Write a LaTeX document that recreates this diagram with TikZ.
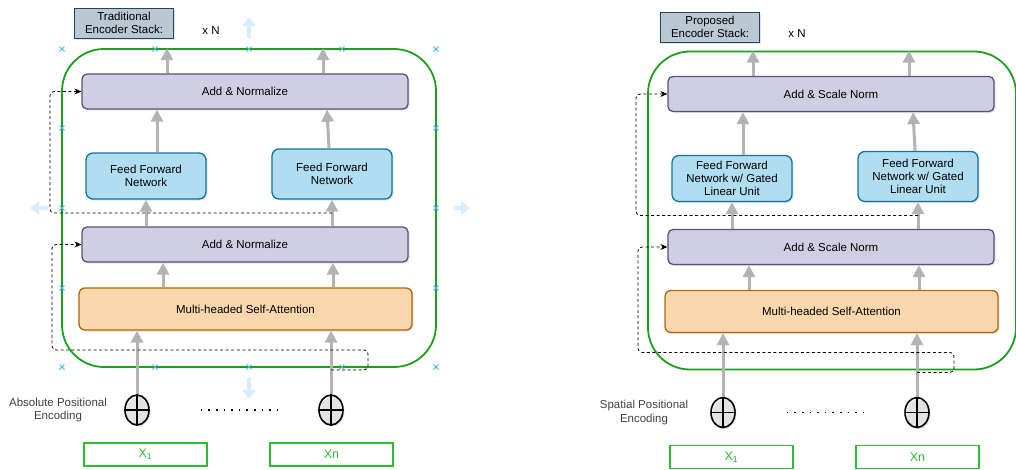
\documentclass[tikz,border=0pt]{standalone}
\usepackage{fontspec}
\setmainfont{Liberation Sans}
\usetikzlibrary{calc,positioning,arrows.meta,shapes.geometric,shadows}

\definecolor{addfill}{HTML}{D0CEE2}
\definecolor{addline}{HTML}{56517E}
\definecolor{ffnfill}{HTML}{B1DDF0}
\definecolor{ffnline}{HTML}{10739E}
\definecolor{attnfill}{HTML}{FAD7AC}
\definecolor{attnline}{HTML}{B46504}
\definecolor{titlefill}{HTML}{BAC8D3}
\definecolor{titleline}{HTML}{23445D}
\definecolor{stackgreen}{HTML}{1E9E1E}
\definecolor{inputgreen}{HTML}{2DBE2D}
\definecolor{flowgray}{HTML}{B3B3B3}
\definecolor{handleblue}{HTML}{3DB8EE}
\definecolor{paleblue}{HTML}{D6EEFB}

\tikzset{blockshadow/.style={drop shadow={opacity=0.22,shadow xshift=1.5pt,shadow yshift=-1.5pt}},
addnorm/.style={draw=addline,fill=addfill,line width=1.3pt,rounded corners=5pt,minimum width=326pt,minimum height=35pt,blockshadow},
ffn/.style={draw=ffnline,fill=ffnfill,line width=1.3pt,rounded corners=7pt,minimum width=120pt,align=center,blockshadow},
attn/.style={draw=attnline,fill=attnfill,line width=1.3pt,rounded corners=6pt,minimum width=333pt,minimum height=42pt,blockshadow},
titlebox/.style={draw=titleline,fill=titlefill,line width=0.9pt,minimum width=99pt,minimum height=30pt,inner sep=1pt,align=center,blockshadow},
stackframe/.style={draw=stackgreen,line width=1.8pt,rounded corners=42pt,minimum width=374pt,minimum height=318pt},
oplus/.style={draw=black,line width=1.6pt,ellipse,minimum width=24pt,minimum height=30pt,inner sep=0pt,blockshadow},
petext/.style={align=center,text=black!75},
inbox/.style={draw=inputgreen,line width=1.8pt,minimum width=123pt,minimum height=23pt,inner sep=0pt,text=inputgreen,font=\fontsize{12.5}{14}\selectfont}}
\tikzstyle{flow}   = [line width=3pt,draw=flowgray,-{Triangle[width=12pt,length=12pt]}]
\tikzstyle{skip}   = [line width=0.8pt,dash pattern=on 3pt off 2.5pt,rounded corners=4pt,-{Stealth[length=7pt,width=6pt]}]
\tikzstyle{handle} = [draw=handleblue,line width=0.9pt]
\tikzstyle{nudge}  = [line width=4.5pt,draw=paleblue,-{Triangle[width=13pt,length=9pt]}]

\begin{document}
\begin{tikzpicture}[x=1pt,y=-1pt,font=\fontsize{11.5}{13.3}\selectfont]
	\useasboundingbox (0,0) rectangle (1016,469);

	% traditional encoder
	\node[stackframe] (tStack) at (249,208) {};
	\node[titlebox] (tTitle) at (124,23) {Traditional\\Encoder Stack:};
	\node (tTimes) at (211,31) {x N};
	\node[addnorm] (tAddTop) at (245,91.5) {Add \& Normalize};
	\node[ffn,minimum height=46pt] (tFfnL) at (146,176) {Feed Forward\\Network};
	\node[ffn,minimum height=50pt] (tFfnR) at (332,174) {Feed Forward\\Network};
	\node[addnorm] (tAddMid) at (245,244.5) {Add \& Normalize};
	\node[attn] (tAttn) at (245.5,309) {Multi-headed Self-Attention};
	\node[oplus] (tSumL) at (137,410) {};
	\node[oplus] (tSumR) at (331,410) {};
	\node[petext] (tPe) at (58,410) {Absolute Positional\\Encoding};
	\node[inbox] (tX1) at (145.5,454.5) {X\textsubscript{1}};
	\node[inbox] (tXn) at (331.5,454.5) {Xn};

	\draw[line width=1.4pt] (tSumL.north) -- (tSumL.south) (tSumL.west) -- (tSumL.east);
	\draw[line width=1.4pt] (tSumR.north) -- (tSumR.south) (tSumR.west) -- (tSumR.east);
	\draw[line width=1.8pt,dash pattern=on 1.6pt off 6pt] ([xshift=51pt]tSumL.east) -- ([xshift=-39pt]tSumR.west);

	\draw[flow] (tSumL.north) -- (tSumL |- tAttn.south);
	\draw[flow] (tSumR.north) -- (tSumR |- tAttn.south);
	\draw[flow] ([xshift=-82.5pt]tAttn.north) -- ([xshift=-82pt]tAddMid.south);
	\draw[flow] ([xshift=87.5pt]tAttn.north) -- ([xshift=88pt]tAddMid.south);
	\draw[flow] (tAddMid.north -| tFfnL) -- (tFfnL.south);
	\draw[flow] (tAddMid.north -| tFfnR) -- (tFfnR.south);
	\draw[flow] ([xshift=11pt]tFfnL.north) -- ([xshift=-88pt]tAddTop.south);
	\draw[flow] ([xshift=-3pt]tFfnR.north) -- ([xshift=82pt]tAddTop.south);
	\draw[flow] ([xshift=-78pt]tAddTop.north) -- ([xshift=-82pt]tStack.north);
	\draw[flow] ([xshift=78pt]tAddTop.north) -- ([xshift=74pt]tStack.north);

	\coordinate (tTapA) at ($(tAddMid.north -| tFfnR)!0.5!(tFfnR.south)$);
	\coordinate (tTapB) at ([yshift=-2pt]tSumR |- tStack.south);
	\draw[skip] (tTapA) -- ++(-282,0) |- (tAddTop.west);
	\draw[skip] (tTapB) -- ++(37,0) -- ++(0,-20) -- ++(-316,0) |- (tAddMid.west);

	% selection handles
	\foreach \hx/\hy in {62/49,155/49,249/49,342/49,436/49,62/367,155/367,249/367,342/367,436/367,62/128,436/128,62/208,436/208,62/288,436/288}
		\draw[handle] (\hx-2.5,\hy-2.5) -- (\hx+2.5,\hy+2.5) (\hx-2.5,\hy+2.5) -- (\hx+2.5,\hy-2.5);
	\draw[nudge] (249,38) -- (249,17);
	\draw[nudge] (249,378) -- (249,399);
	\draw[nudge] (48,208) -- (30,208);
	\draw[nudge] (454,208) -- (470,208);

	% proposed encoder
	\begin{scope}[shift={(586,2.5)}]
		\node[stackframe,minimum width=368pt,xshift=-3pt] (pStack) at (249,208) {};
		\node[titlebox] (pTitle) at (124,24.5) {Proposed\\Encoder Stack:};
		\node (pTimes) at (211,31) {x N};
		\node[addnorm] (pAddTop) at (245,91.5) {Add \& Scale Norm};
		\node[ffn,minimum height=46pt] (pFfnL) at (146,176) {Feed Forward\\Network w/ Gated\\Linear Unit};
		\node[ffn,minimum height=50pt] (pFfnR) at (332,174) {Feed Forward\\Network w/ Gated\\Linear Unit};
		\node[addnorm] (pAddMid) at (245,244.5) {Add \& Scale Norm};
		\node[attn] (pAttn) at (245.5,309) {Multi-headed Self-Attention};
		\node[oplus] (pSumL) at (137,410) {};
		\node[oplus] (pSumR) at (331,410) {};
		\node[petext] (pPe) at (58,410) {Spatial Positional\\Encoding};
		\node[inbox] (pX1) at (145.5,454.5) {X\textsubscript{1}};
		\node[inbox] (pXn) at (331.5,454.5) {Xn};

		\draw[line width=1.4pt] (pSumL.north) -- (pSumL.south) (pSumL.west) -- (pSumL.east);
		\draw[line width=1.4pt] (pSumR.north) -- (pSumR.south) (pSumR.west) -- (pSumR.east);
		\draw[line width=1.8pt,dash pattern=on 1.6pt off 6pt] ([xshift=51pt]pSumL.east) -- ([xshift=-39pt]pSumR.west);

		\draw[flow] (pSumL.north) -- (pSumL |- pAttn.south);
		\draw[flow] (pSumR.north) -- (pSumR |- pAttn.south);
		\draw[flow] ([xshift=-82.5pt]pAttn.north) -- ([xshift=-82pt]pAddMid.south);
		\draw[flow] ([xshift=87.5pt]pAttn.north) -- ([xshift=88pt]pAddMid.south);
		\draw[flow] (pAddMid.north -| pFfnL) -- (pFfnL.south);
		\draw[flow] (pAddMid.north -| pFfnR) -- (pFfnR.south);
		\draw[flow] ([xshift=11pt]pFfnL.north) -- ([xshift=-88pt]pAddTop.south);
		\draw[flow] ([xshift=-3pt]pFfnR.north) -- ([xshift=82pt]pAddTop.south);
		\draw[flow] ([xshift=-78pt]pAddTop.north) -- ([xshift=-79pt]pStack.north);
		\draw[flow] ([xshift=78pt]pAddTop.north) -- ([xshift=77pt]pStack.north);

		\coordinate (pTapA) at ($(pAddMid.north -| pFfnR)!0.5!(pFfnR.south)$);
		\coordinate (pTapB) at ([yshift=-2pt]pSumR |- pStack.south);
		\draw[skip] (pTapA) -- ++(-282,0) |- (pAddTop.west);
		\draw[skip] (pTapB) -- ++(37,0) -- ++(0,-20) -- ++(-316,0) |- (pAddMid.west);
	\end{scope}
\end{tikzpicture}
\end{document}
